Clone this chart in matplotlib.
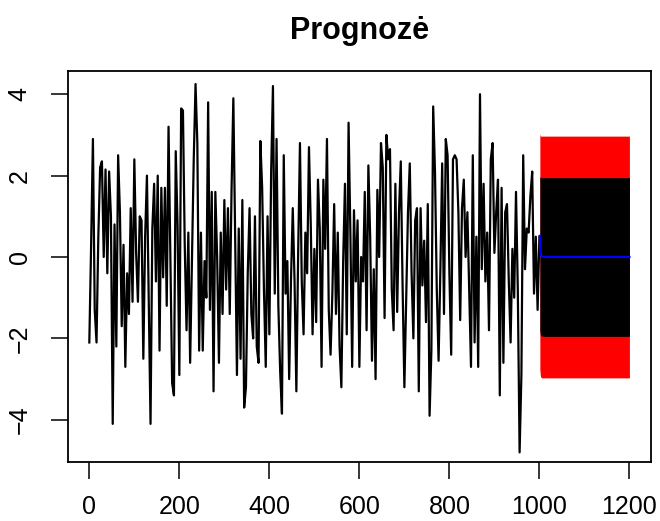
import numpy as np
import matplotlib
matplotlib.use("Agg")
import matplotlib.pyplot as plt

obs = [
    -2.1, 0.3, 2.9, -1.3, -2.1, 0.5, 2.2, 2.35, 0.0, 2.15, -0.4, 2.1, 1.0, -4.1, 0.8, -2.2,
    2.5, 1.1, -1.7, 0.3, -2.7, -0.4, -1.4, 1.2, -1.1, 2.4, 0.1, -1.1, 1.0, 0.9, -2.5, 0.5,
    2.0, -1.0, -4.1, 0.7, 1.8, -0.6, 2.0, -2.3, 1.7, -0.5,
    1.7, -1.2, 3.2, 0.0, -3.1, -3.4, 2.6, 0.8, -2.9, 3.65, 3.6, 0.3, -1.8, 0.6, -2.6, -0.1,
    2.4, 4.25, 2.8, -2.3, 0.6, -2.3, -0.1, -1.0, 3.8, -1.3, 1.6, -3.3, 1.6, 0.0, -2.6, 0.6,
    -1.4, 1.4, -0.8, 1.2, -1.4, 1.65, 3.9, 0.5, -2.9, 0.7,
    -2.5, 1.4, -3.7, -3.2, -0.4, 1.2, -1.4, -2.0, 1.0, -2.2, -2.6, 2.85, 1.7, -0.8, -2.7, 1.0,
    -1.9, 2.1, 4.2, -0.9, 2.9, -1.2, -2.8, -3.85, 2.5, -0.9, -0.1, -3.0, -0.6, 1.2, -0.6, -3.3,
    0.1, 2.8, -0.6, -1.9, 0.6, -0.4, 2.7, 0.8, -1.9, 0.2,
    -1.6, 1.9, 0.7, -2.7, 1.9, 0.2, 2.9, -1.3, -2.4, -0.9, 1.3, -1.4, 0.6, -2.2, -3.2, -0.1,
    1.8, -1.9, 3.3, 0.6, -2.7, 1.15, -0.6, 0.9, -2.7, 0.0, -0.6, 1.6, -1.8, 2.25, 0.5, -2.55,
    -0.3, -3.0, 1.65, 0.0, 2.8, 2.2, -1.5, 3.0, 2.4,
    2.65, -0.8, -1.8, 1.8, -1.35, 1.1, 2.35, -0.7, -3.2, -1.0, 1.1, 2.3, -0.4, -2.0, 0.9, 1.2,
    -3.3, 1.2, -0.7, 0.4, -1.6, 1.3, -3.9, -2.3, 3.7, 2.1, -0.8, -2.55, -0.3, 2.3, -1.4, 2.9,
    2.5, -0.4, -2.4, 2.4, 2.5, 2.4, 1.1, -1.55, 1.2, 1.9,
    0.0, 1.1, -0.8, -2.7, 2.5, -2.1, 0.5, -2.7, 4.0, -0.3, 1.8, -0.6, 0.6, -1.8, 2.4, 2.8,
    0.1, 1.1, 1.9, -3.4, 1.7, -2.6, 1.1, 1.3, -0.6, -2.1, 0.2, -1.0, 1.6, -0.8, -4.8, -2.9,
    2.5, -0.3, 0.7, 0.6, 1.5, 2.1, -0.9, 0.5, -1.3, 0.5,
]
obs_x = np.arange(len(obs)) * 4

# forecast (x = 1001 .. 1200)
fc_x = [1001, 1002, 1003, 1005, 1010, 1200]
fc_mean = [0.52, 0.22, 0.08, 0.02, 0.0, 0.0]
up95 = [3.03, 2.98, 2.97, 2.97, 2.97, 2.97]
lo95 = [-2.75, -2.9, -2.95, -2.97, -2.97, -2.97]
up80 = [1.98, 1.96, 1.95, 1.95, 1.95, 1.95]
lo80 = [-1.8, -1.9, -1.93, -1.94, -1.95, -1.95]

plt.rcParams['font.family'] = ['Liberation Sans', 'DejaVu Sans']

fig = plt.figure(figsize=(6.6, 5.21), dpi=100)
ax = fig.add_axes([0.1026, 0.1138, 0.8838, 0.7499])

ax.fill_between(fc_x, lo95, up95, color='red', lw=0)
ax.fill_between(fc_x, lo80, up80, color='black', lw=0)
ax.plot(obs_x, obs, color='black', lw=1.6)
ax.plot(fc_x, fc_mean, color='blue', lw=1.6)

ax.set_xlim(-48, 1248)
ax.set_ylim(-5.03, 4.57)
ax.set_xticks([0, 200, 400, 600, 800, 1000, 1200])
ax.set_yticks([-4, -2, 0, 2, 4])
ax.tick_params(axis='both', direction='out', length=12, width=1.1, labelsize=18)
ax.tick_params(axis='x', pad=12)
ax.tick_params(axis='y', pad=14)
for lab in ax.get_yticklabels():
    lab.set_rotation(90)
    lab.set_va('center')
for s in ax.spines.values():
    s.set_linewidth(1.3)

ax.set_title("Prognozė", fontsize=22, fontweight='bold', pad=23)

fig.savefig("out.png", dpi=100)
